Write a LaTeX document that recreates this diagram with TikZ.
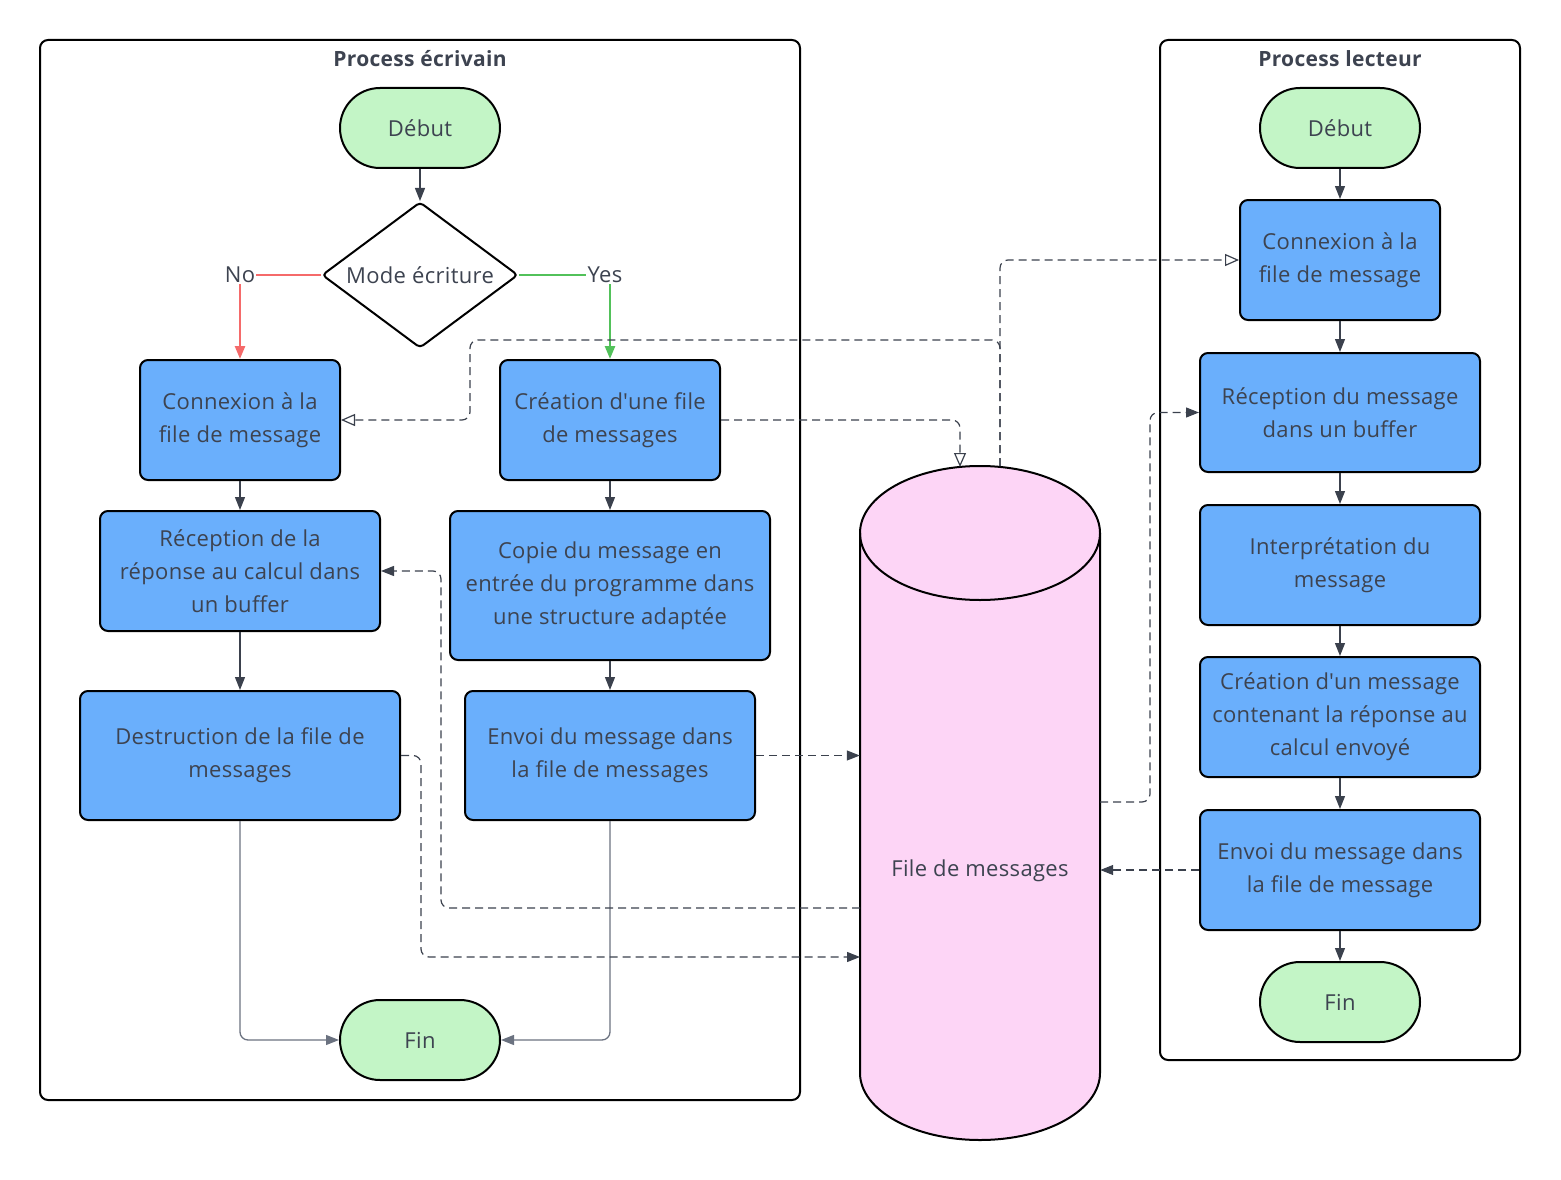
\documentclass[tikz,border=0pt]{standalone}
\usepackage{fontspec}
\setmainfont{Open Sans}[LetterSpace=1.5]
\usetikzlibrary{arrows.meta,shapes.geometric}
\definecolor{ink}{HTML}{3D4350}
\definecolor{boxblue}{HTML}{6AAFFC}
\definecolor{termgreen}{HTML}{C3F5C6}
\definecolor{queuepink}{HTML}{FDD5F6}
\definecolor{nored}{HTML}{F56A6A}
\definecolor{yesgreen}{HTML}{52C15A}
\definecolor{wire}{HTML}{3B414D}
\definecolor{wiregray}{HTML}{6B7280}
\newcommand{\apos}{\textquotesingle}
\begin{document}
\begin{tikzpicture}[x=1pt,y=-1pt,
  every node/.style={font=\fontsize{22}{33}\selectfont, text=ink},
  lane/.style={draw=black, line width=2pt, rounded corners=8pt, inner sep=0pt},
  lanetitle/.style={font=\fontsize{21}{24}\selectfont\bfseries},
  stepbox/.style={draw=black, line width=2pt, fill=boxblue, rounded corners=8pt, align=center, inner sep=0pt},
  term/.style={draw=black, line width=2pt, fill=termgreen, rounded corners=40pt,
    minimum width=160pt, minimum height=80pt, inner sep=0pt},
  decision/.style={diamond, draw=black, line width=2pt, fill=white, rounded corners=4pt,
    aspect=1.34, minimum width=196pt, minimum height=146pt, inner sep=0pt},
  flow/.style={draw=wire, line width=1.3pt, -{Triangle[length=13pt,width=10pt]}},
  flowgray/.style={draw=wiregray, line width=1.3pt, rounded corners=8pt, -{Triangle[length=13pt,width=10pt]}},
  link/.style={draw=wire, line width=1.2pt, dash pattern=on 8pt off 5pt, rounded corners=8pt,
    -{Triangle[length=13pt,width=10pt]}},
  openlink/.style={draw=wire, line width=1.2pt, dash pattern=on 8pt off 5pt, rounded corners=8pt,
    -{Triangle[open,length=14pt,width=12pt,fill=white]}},
  branchlabel/.style={inner sep=1pt, fill=white}
]
\useasboundingbox (0,0) rectangle (1561,1180);

% swimlanes
\node[lane, minimum width=760pt, minimum height=1060pt] (writer) at (420,570) {};
\node[lanetitle] (writertitle) at (420,59) {Process écrivain};
\node[lane, minimum width=360pt, minimum height=1020pt] (reader) at (1340,550) {};
\node[lanetitle] (readertitle) at (1340,59) {Process lecteur};

% message queue (cylinder)
\path[fill=queuepink] (860,533) -- (860,1073)
  arc[start angle=180, end angle=0, x radius=120, y radius=67] -- (1100,533)
  arc[start angle=0, end angle=-180, x radius=120, y radius=67] -- cycle;
\draw[line width=2pt] (860,533) -- (860,1073)
  arc[start angle=180, end angle=0, x radius=120, y radius=67] -- (1100,533);
\draw[line width=2pt] (980,533) ellipse[x radius=120, y radius=67];
\node[minimum width=240pt, minimum height=674pt, inner sep=0pt] (queue) at (980,803) {};
\node (queuelabel) at (980,871) {File de messages};
\coordinate (qin) at (960,467);
\coordinate (qout) at (1000,466);
\coordinate (qwa) at (860,908);
\coordinate (qwb) at (860,957);
\coordinate (qea) at (1100,802);

% writer process
\node[term] (wstart) at (420,128) {Début};
\node[decision] (mode) at (420,275) {Mode écriture};
\node[branchlabel] (nolab) at (240,275) {No};
\node[branchlabel] (yeslab) at (605,275) {Yes};
\node[stepbox, minimum width=200pt, minimum height=120pt] (wconn) at (240,420) {Connexion à la\\file de message};
\node[stepbox, minimum width=220pt, minimum height=120pt] (wcreate) at (610,420) {Création d\apos une file\\de messages};
\node[stepbox, minimum width=280pt, minimum height=120pt] (wrecv) at (240,571) {Réception de la\\réponse au calcul dans\\un buffer};
\node[stepbox, minimum width=320pt, minimum height=149pt] (wcopy) at (610,585.5) {Copie du message en\\entrée du programme dans\\une structure adaptée};
\node[stepbox, minimum width=320pt, minimum height=129pt] (wdestroy) at (240,755.5) {Destruction de la file de\\messages};
\node[stepbox, minimum width=290pt, minimum height=129pt] (wsend) at (610,755.5) {Envoi du message dans\\la file de messages};
\node[term] (wend) at (420,1040) {Fin};

% reader process
\node[term] (rstart) at (1340,128) {Début};
\node[stepbox, minimum width=200pt, minimum height=120pt] (rconn) at (1340,260) {Connexion à la\\file de message};
\node[stepbox, minimum width=280pt, minimum height=119pt] (rrecv) at (1340,412.5) {Réception du message\\dans un buffer};
\node[stepbox, minimum width=280pt, minimum height=120pt] (rparse) at (1340,565) {Interprétation du\\message};
\node[stepbox, minimum width=280pt, minimum height=120pt] (rbuild) at (1340,717) {Création d\apos un message\\contenant la réponse au\\calcul envoyé};
\node[stepbox, minimum width=280pt, minimum height=120pt] (rsend) at (1340,870) {Envoi du message dans\\la file de message};
\node[term] (rend) at (1340,1002) {Fin};

% writer flow
\draw[flow] (wstart) -- (mode);
\draw[draw=nored, line width=2.5pt] (mode.west) -- (nolab.east);
\draw[draw=nored, line width=2.5pt, -{Triangle[length=13pt,width=10pt]}] (nolab.south) -- (wconn.north);
\draw[draw=yesgreen, line width=2.5pt] (mode.east) -- (yeslab.west);
\draw[draw=yesgreen, line width=2.5pt, -{Triangle[length=13pt,width=10pt]}] (yeslab.south -| wcreate.north) -- (wcreate.north);
\draw[flow] (wconn) -- (wrecv);
\draw[flow] (wrecv) -- (wdestroy);
\draw[flow] (wcreate) -- (wcopy);
\draw[flow] (wcopy) -- (wsend);
\draw[flowgray] (wdestroy.south) |- (wend.west);
\draw[flowgray] (wsend.south) |- (wend.east);

% reader flow
\draw[flow] (rstart) -- (rconn);
\draw[flow] (rconn) -- (rrecv);
\draw[flow] (rrecv) -- (rparse);
\draw[flow] (rparse) -- (rbuild);
\draw[flow] (rbuild) -- (rsend);
\draw[flow] (rsend) -- (rend);

% message exchanges through the queue
\draw[openlink] (wcreate.east) -| (qin);
\draw[openlink] (qout) |- (rconn.west);
\draw[openlink] (qout) |- (470,340) |- (wconn.east);
\draw[link] (wsend.east) -- (wsend.east -| queue.west);
\draw[link] (qwa) -| ([xshift=60pt]wrecv.east) -- (wrecv.east);
\draw[link] (wdestroy.east) -- ++(20,0) |- (qwb);
\draw[link] (qea) -- ++(50,0) |- (rrecv.west);
\draw[link] (rsend.west) -- (rsend.west -| queue.east);
\end{tikzpicture}
\end{document}
